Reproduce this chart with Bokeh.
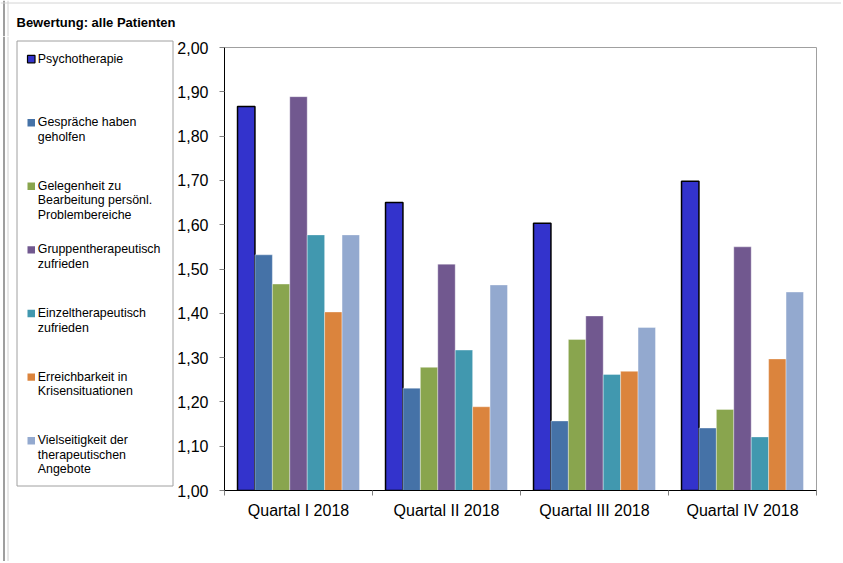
from bokeh.plotting import figure
from bokeh.layouts import row, column
from bokeh.models import Range1d, FixedTicker, ColumnDataSource
from bokeh.core.properties import value
from bokeh.embed import file_html
from bokeh.resources import INLINE

# ---------------- data ----------------
title_text = "Bewertung: alle Patienten"
quarters = ["Quartal I 2018", "Quartal II 2018", "Quartal III 2018", "Quartal IV 2018"]

series_names = [
    "Psychotherapie",
    "Gespräche haben\ngeholfen",
    "Gelegenheit zu\nBearbeitung persönl.\nProblembereiche",
    "Gruppentherapeutisch\nzufrieden",
    "Einzeltherapeutisch\nzufrieden",
    "Erreichbarkeit in\nKrisensituationen",
    "Vielseitigkeit der\ntherapeutischen\nAngebote",
]
series_colors = ["#3333CC", "#4572A7", "#89A54E", "#71588F", "#4198AF", "#DB843D", "#93A9CF"]

psychotherapie = [1.867, 1.650, 1.603, 1.698]
gespraeche = [1.532, 1.231, 1.157, 1.141]
gelegenheit = [1.466, 1.278, 1.341, 1.183]
gruppentherapeutisch = [1.889, 1.511, 1.394, 1.550]
einzeltherapeutisch = [1.577, 1.317, 1.262, 1.121]
erreichbarkeit = [1.403, 1.189, 1.269, 1.297]
vielseitigkeit = [1.577, 1.464, 1.368, 1.448]
series_values = [psychotherapie, gespraeche, gelegenheit, gruppentherapeutisch,
                 einzeltherapeutisch, erreichbarkeit, vielseitigkeit]

y_ticks = [1.0, 1.1, 1.2, 1.3, 1.4, 1.5, 1.6, 1.7, 1.8, 1.9, 2.0]
y_tick_labels = ["1,00", "1,10", "1,20", "1,30", "1,40", "1,50", "1,60", "1,70", "1,80", "1,90", "2,00"]

FONT = "Liberation Sans"
H = 561          # total height
TW = 841         # total width
TH = 36          # height of title strip
LW = 174         # width of legend panel
BH = H - TH      # height of lower row


def blank(width, height, x0, x1, y0, y1):
    f = figure(width=width, height=height, output_backend="svg", toolbar_location=None,
               x_range=Range1d(x0, x1), y_range=Range1d(y1, y0),
               x_axis_location=None, y_axis_location=None,
               min_border_left=0, min_border_right=0, min_border_top=0, min_border_bottom=0,
               background_fill_color="white", border_fill_color="white")
    f.frame_align = False
    f.grid.visible = False
    f.outline_line_color = None
    return f


# ---------------- title strip (page pixel coordinates) ----------------
top = blank(TW, TH, 0, TW, 0, TH)
top.segment(x0=[3.5], y0=[0], x1=[3.5], y1=[TH], line_color="#7f7f7f", line_width=1.5)
top.segment(x0=[7.5], y0=[0], x1=[7.5], y1=[TH], line_color="#d0d0d0", line_width=1)
top.segment(x0=[0], y0=[2.5], x1=[TW], y1=[2.5], line_color="#d4d4d4", line_width=1)
top.text(x=[16], y=[14.2], text=[title_text], text_font=value(FONT), text_font_size="13px",
         text_font_style="bold", text_baseline="top", text_align="left", text_color="black")

# ---------------- legend panel (page pixel coordinates) ----------------
leg = blank(LW, BH, 0, LW, TH, H)
leg.segment(x0=[3.5], y0=[TH], x1=[3.5], y1=[H], line_color="#7f7f7f", line_width=1.5)
leg.segment(x0=[7.5], y0=[TH], x1=[7.5], y1=[H], line_color="#d0d0d0", line_width=1)
leg.quad(left=[16.5], right=[172.5], top=[40.5], bottom=[485.5], fill_color="white",
         line_color="#a0a0a0", line_width=1)

first_c, step = 58.6, 63.6
centres = [first_c + j * step for j in range(len(series_names))]
lsrc = ColumnDataSource(dict(
    left=[27] * len(series_names), right=[34.5] * len(series_names),
    top=[c - 3.7 for c in centres], bottom=[c + 3.7 for c in centres],
    color=series_colors, line=["black"] + [None] * (len(series_names) - 1),
    tx=[37.3] * len(series_names), ty=[c - 7.6 for c in centres], name=series_names))
leg.quad(left="left", right="right", top="top", bottom="bottom", fill_color="color",
         line_color="line", line_width=1.2, source=lsrc)
leg.text(x="tx", y="ty", text="name", text_font=value(FONT), text_font_size="12.4px",
         text_baseline="top", text_align="left", text_color="black", text_line_height=1.045,
         source=lsrc)

# ---------------- main chart ----------------
FL, FT, FR, FB = 224, 47, 816, 490  # frame in page pixels
MW = TW - LW
p = figure(width=MW, height=BH, output_backend="svg", toolbar_location=None,
           x_range=Range1d(0, len(quarters)), y_range=Range1d(y_ticks[0], y_ticks[-1]),
           min_border_left=FL - LW, min_border_right=TW - FR, min_border_top=FT - TH,
           min_border_bottom=H - FB, background_fill_color="white", border_fill_color="white")
p.frame_align = False
p.grid.visible = False
p.outline_line_color = "#a0a0a0"
p.outline_line_width = 1

n = len(series_names)
group_frac = 0.824
bw = group_frac / n
for j, (name, col, vals) in enumerate(zip(series_names, series_colors, series_values)):
    xs = [i + 0.5 + (j - (n - 1) / 2) * bw for i in range(len(quarters))]
    src = ColumnDataSource(dict(x=xs, top=vals, quarter=quarters))
    if j == 0:
        p.vbar(x="x", top="top", bottom=y_ticks[0], width=bw, source=src,
               fill_color=col, line_color="black", line_width=1.5)
    else:
        p.vbar(x="x", top="top", bottom=y_ticks[0], width=bw, source=src,
               fill_color=col, line_color="white", line_width=0.6, line_alpha=0.6)

# y axis
ya = p.yaxis[0]
ya.ticker = FixedTicker(ticks=y_ticks, minor_ticks=[])
ya.major_label_overrides = {float(t): lab for t, lab in zip(y_ticks, y_tick_labels)}
ya.major_label_text_font = FONT
ya.major_label_text_font_size = "16px"
ya.major_label_text_color = "black"
ya.major_tick_out = 5
ya.major_tick_in = 0
ya.major_tick_line_color = "#808080"
ya.axis_line_color = "black"
ya.major_label_standoff = 11

# x axis (labels at centres, ticks at group boundaries)
xa = p.xaxis[0]
centers = [i + 0.5 for i in range(len(quarters))]
bounds = [float(i) for i in range(len(quarters) + 1)]
xa.ticker = FixedTicker(ticks=centers, minor_ticks=bounds)
xa.major_label_overrides = {float(c): q for c, q in zip(centers, quarters)}
xa.major_label_text_font = FONT
xa.major_label_text_font_size = "16px"
xa.major_label_text_color = "black"
xa.major_tick_out = 0
xa.major_tick_in = 0
xa.minor_tick_out = 5
xa.minor_tick_in = 0
xa.minor_tick_line_color = "#808080"
xa.axis_line_color = "black"
xa.major_label_standoff = 6

layout = column(top, row(leg, p, spacing=0), spacing=0)
open("out.html", "w").write(file_html(layout, INLINE))
